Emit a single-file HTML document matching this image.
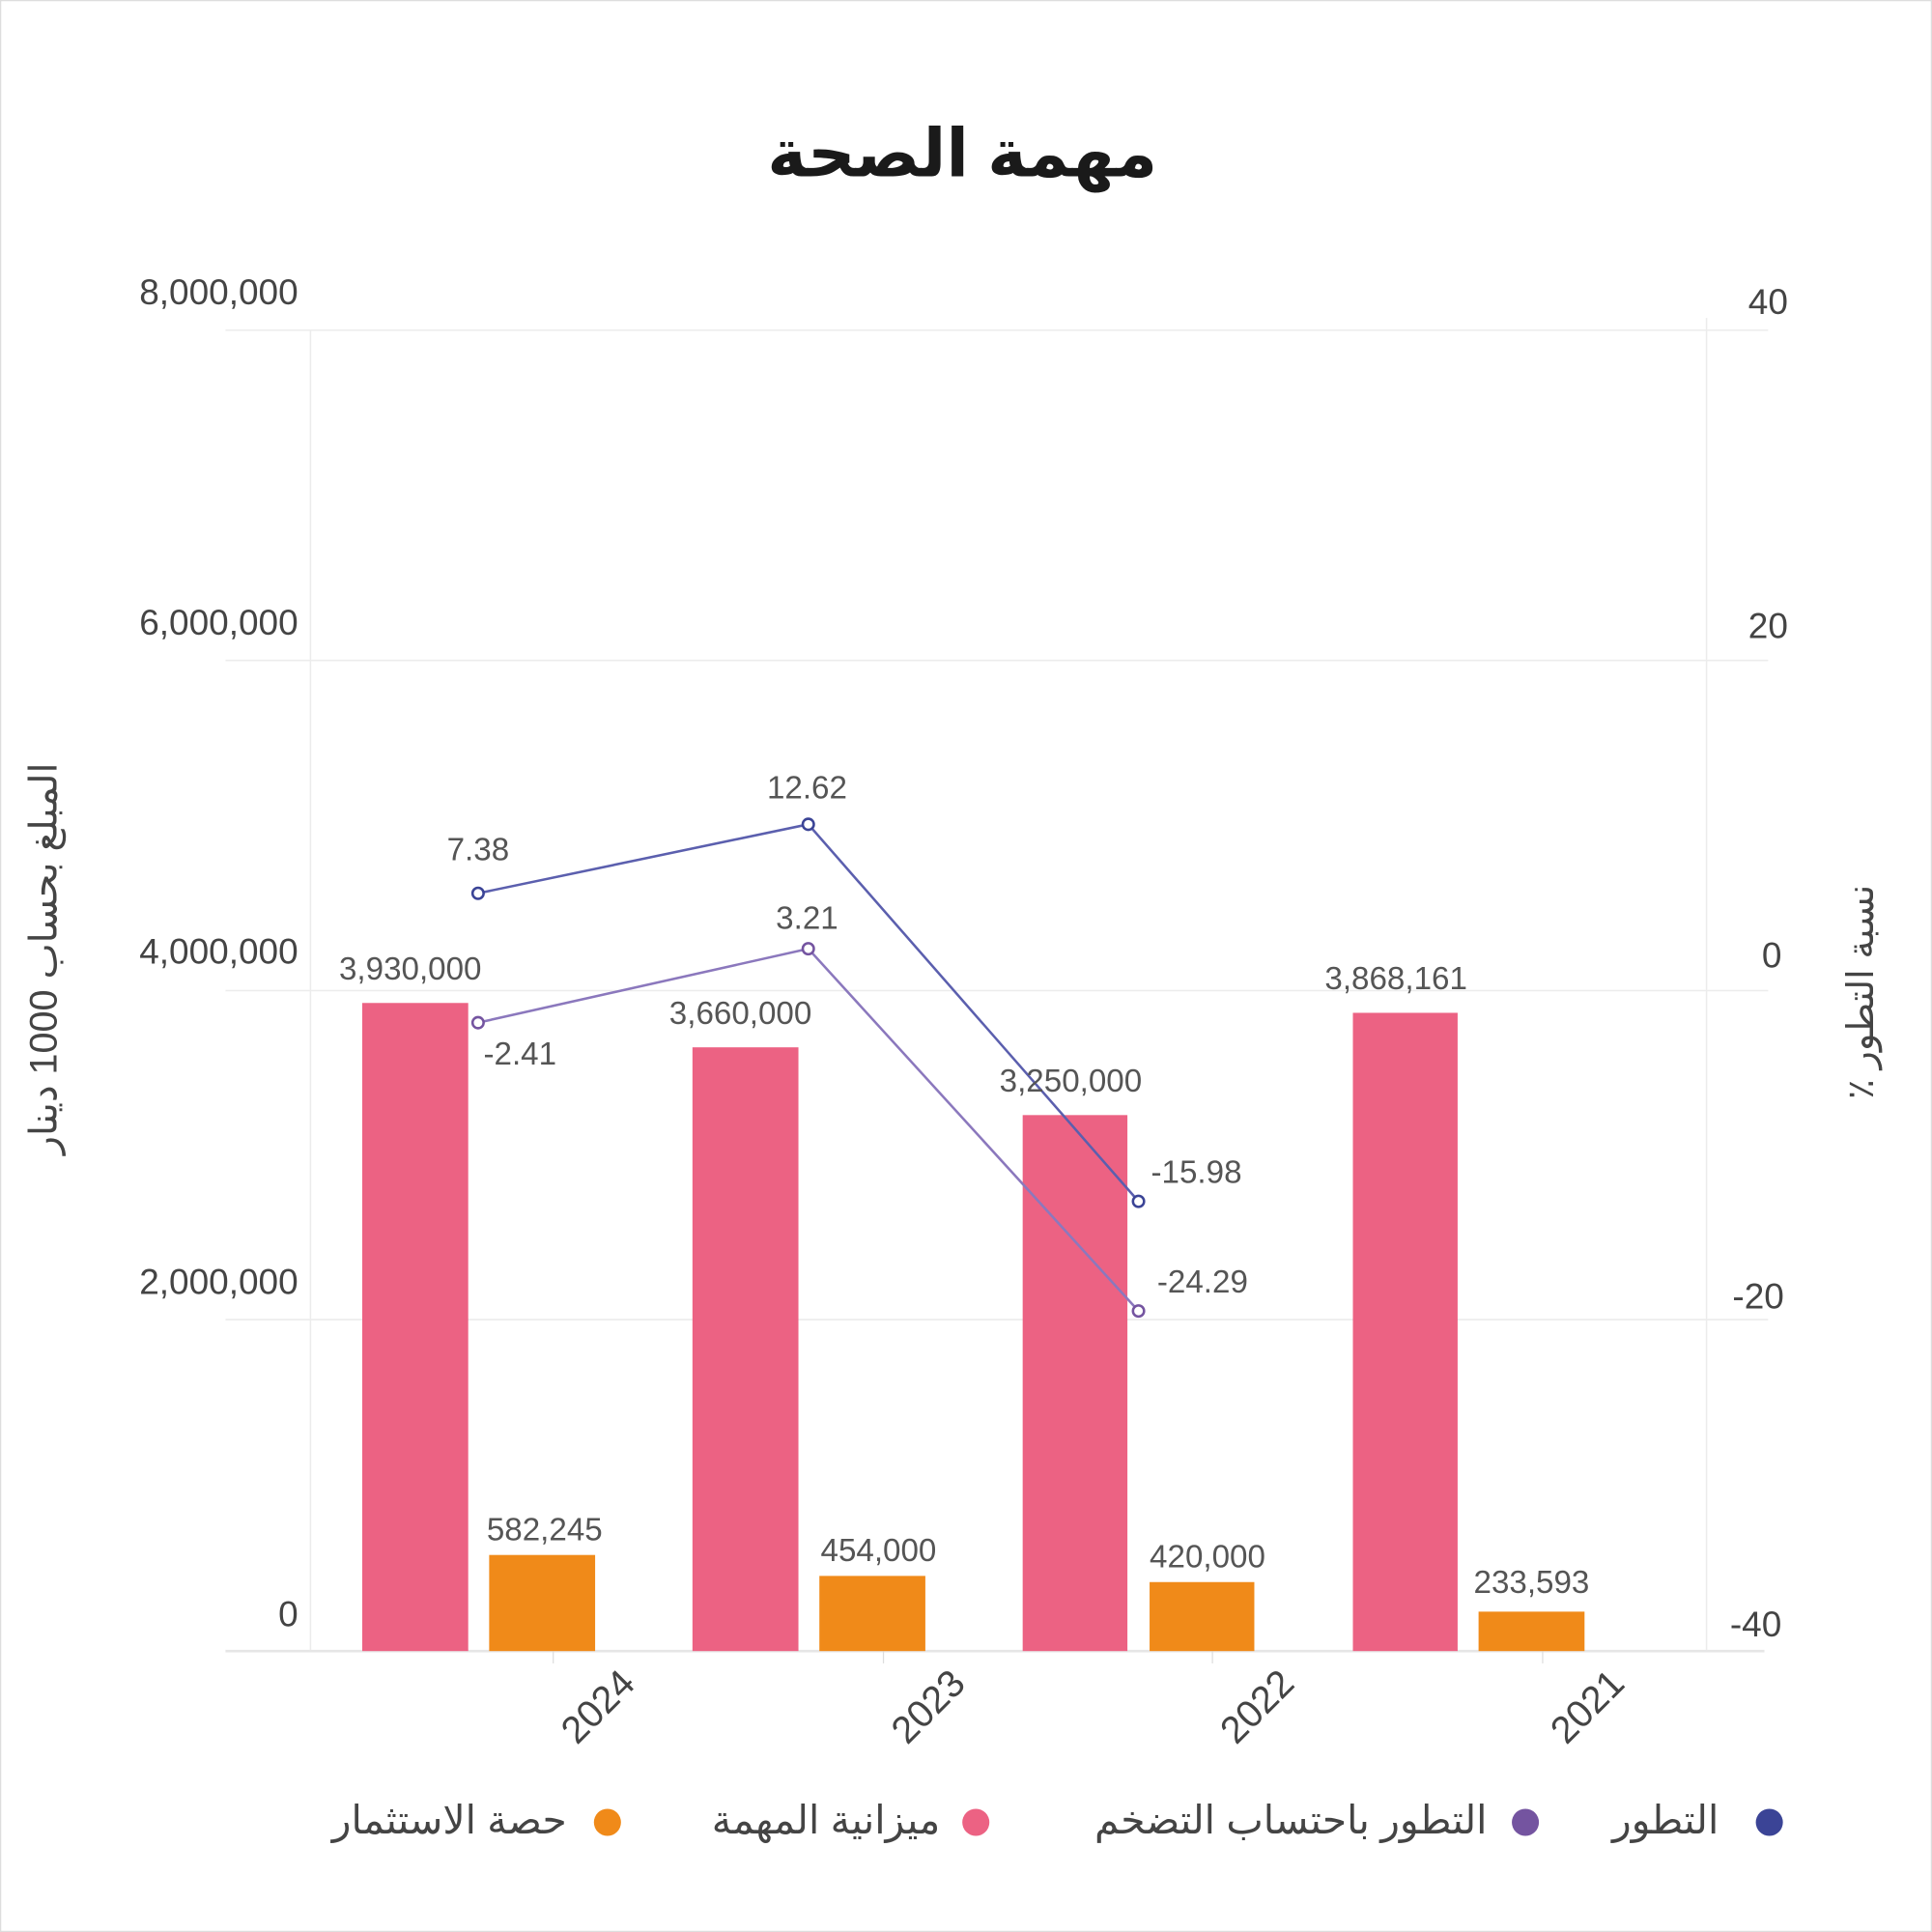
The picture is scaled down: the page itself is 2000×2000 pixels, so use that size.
<!DOCTYPE html>
<html><head><meta charset="utf-8"><style>
html,body{margin:0;padding:0;background:#fff}
svg{display:block}
text{font-family:"Liberation Sans","DejaVu Sans",sans-serif}
</style></head><body>
<svg width="2000" height="2000" viewBox="0 0 1568 1568" xmlns="http://www.w3.org/2000/svg">
<rect x="0.5" y="0.5" width="1567" height="1567" fill="#fff" stroke="#ddd"/>
<text x="781" y="143" text-anchor="middle" font-size="54" font-weight="bold" fill="#1a1a1a">مهمة الصحة</text>
<g stroke="#ececec" stroke-width="1.2">
<line x1="183" y1="268" x2="1435" y2="268"/>
<line x1="183" y1="536" x2="1435" y2="536"/>
<line x1="183" y1="804" x2="1435" y2="804"/>
<line x1="183" y1="1071" x2="1435" y2="1071"/>
<line x1="252" y1="268" x2="252" y2="1340"/>
<line x1="1385" y1="258" x2="1385" y2="1340"/>
</g>
<line x1="183" y1="1340" x2="1432" y2="1340" stroke="#e6e6e6" stroke-width="2"/>
<g stroke="#ddd"><line x1="449" y1="1340" x2="449" y2="1350"/><line x1="717" y1="1340" x2="717" y2="1350"/><line x1="984" y1="1340" x2="984" y2="1350"/><line x1="1252" y1="1340" x2="1252" y2="1350"/></g>
<g font-size="29" fill="#444" text-anchor="end">
<text x="242" y="247">8,000,000</text>
<text x="242" y="515">6,000,000</text>
<text x="242" y="782">4,000,000</text>
<text x="242" y="1050">2,000,000</text>
<text x="242" y="1320">0</text>
</g>
<g font-size="29" fill="#444" text-anchor="middle">
<text x="1435" y="255">40</text>
<text x="1435" y="518">20</text>
<text x="1438" y="785">0</text>
<text x="1427" y="1062">-20</text>
<text x="1425" y="1328">-40</text>
</g>
<text transform="translate(46,778) rotate(-90)" text-anchor="middle" font-size="31" fill="#444">المبلغ بحساب 1000 دينار</text>
<text transform="translate(1520,805) rotate(-90)" text-anchor="middle" font-size="30" fill="#444">٪ نسبة التطور</text>
<g fill="#ec6283">
<rect x="294" y="814" width="86" height="526"/>
<rect x="562" y="850" width="86" height="490"/>
<rect x="830" y="905" width="85" height="435"/>
<rect x="1098" y="822" width="85" height="518"/>
</g>
<g fill="#f08a19">
<rect x="397" y="1262" width="86" height="78"/>
<rect x="665" y="1279" width="86" height="61"/>
<rect x="933" y="1284" width="85" height="56"/>
<rect x="1200" y="1308" width="86" height="32"/>
</g>
<polyline points="388,725 656,669 924,975" fill="none" stroke="#5b5fae" stroke-width="2"/>
<polyline points="388,830 656,770 924,1064" fill="none" stroke="#8b78bd" stroke-width="2"/>
<g fill="#fff" stroke-width="2">
<circle cx="388" cy="725" r="4.5" stroke="#3b4496"/><circle cx="656" cy="669" r="4.5" stroke="#3b4496"/><circle cx="924" cy="975" r="4.5" stroke="#3b4496"/>
<circle cx="388" cy="830" r="4.5" stroke="#7454a0"/><circle cx="656" cy="770" r="4.5" stroke="#7454a0"/><circle cx="924" cy="1064" r="4.5" stroke="#7454a0"/>
</g>
<g font-size="26" fill="#555" text-anchor="middle">
<text x="333" y="795">3,930,000</text>
<text x="601" y="831">3,660,000</text>
<text x="869" y="886">3,250,000</text>
<text x="1133" y="803">3,868,161</text>
<text x="442" y="1250">582,245</text>
<text x="713" y="1267">454,000</text>
<text x="980" y="1272">420,000</text>
<text x="1243" y="1293">233,593</text>
<text x="388" y="698">7.38</text>
<text x="655" y="648">12.62</text>
<text x="655" y="754">3.21</text>
<text x="422" y="864">-2.41</text>
<text x="971" y="960">-15.98</text>
<text x="976" y="1049">-24.29</text>
</g>
<g font-size="31" fill="#444" text-anchor="end">
<text transform="translate(517,1368) rotate(-45)">2024</text>
<text transform="translate(785,1368) rotate(-45)">2023</text>
<text transform="translate(1052,1368) rotate(-45)">2022</text>
<text transform="translate(1320,1368) rotate(-45)">2021</text>
</g>
<circle cx="1436" cy="1479" r="11" fill="#3b4496"/>
<circle cx="1238" cy="1479" r="11" fill="#7454a0"/>
<circle cx="792" cy="1479" r="11" fill="#ec6283"/>
<circle cx="493" cy="1479" r="11" fill="#f08a19"/>
<g font-size="32" fill="#444" text-anchor="end">
<text x="1395" y="1488">التطور</text>
<text x="1207" y="1488">التطور باحتساب التضخم</text>
<text x="763" y="1488">ميزانية المهمة</text>
<text x="460" y="1488">حصة الاستثمار</text>
</g>
</svg>
</body></html>
